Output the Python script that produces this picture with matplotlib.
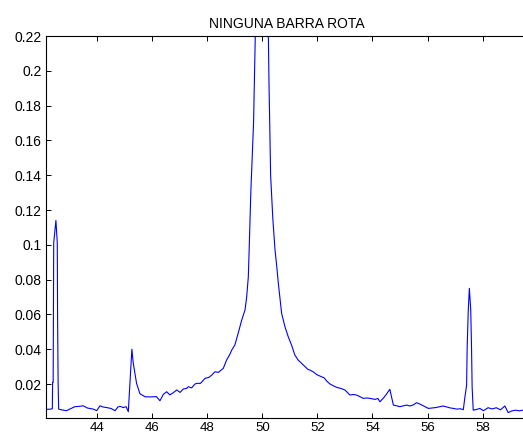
#!/usr/bin/env python3
from __future__ import annotations

import matplotlib as mpl

mpl.use("Agg")
import matplotlib.pyplot as plt

TITLE = "NINGUNA BARRA ROTA"

# spectrum (frequency, amplitude)
FREQ = [
    42.14, 42.20, 42.30, 42.37, 42.38, 42.40, 42.41, 42.42, 42.50, 42.55,
    42.56, 42.58, 42.60, 42.70, 42.89, 43.00, 43.19, 43.35, 43.49, 43.65,
    43.86, 43.98, 44.10, 44.22, 44.34, 44.50, 44.65, 44.75, 44.83, 44.95,
    45.05, 45.13, 45.19, 45.26, 45.31, 45.43, 45.55, 45.74, 45.92, 46.04,
    46.15, 46.28, 46.40, 46.52, 46.64, 46.76, 46.89, 47.01, 47.13, 47.25,
    47.31, 47.43, 47.55, 47.61, 47.75, 47.92, 48.05, 48.15, 48.28, 48.40,
    48.58, 48.70, 48.80, 48.89, 49.00, 49.12, 49.25, 49.37, 49.43, 49.49,
    49.52, 49.58, 49.68, 49.78, 49.90, 50.10, 50.21, 50.24, 50.30, 50.38,
    50.46, 50.52, 50.58, 50.70, 50.82, 50.94, 51.06, 51.18, 51.30, 51.42,
    51.55, 51.65, 51.73, 51.85, 51.97, 52.09, 52.25, 52.35, 52.46, 52.58,
    52.70, 52.85, 53.00, 53.18, 53.30, 53.42, 53.54, 53.66, 53.80, 53.90,
    54.09, 54.20, 54.27, 54.40, 54.50, 54.63, 54.70, 54.76, 54.88, 55.00,
    55.12, 55.24, 55.36, 55.48, 55.60, 55.72, 55.85, 56.03, 56.15, 56.30,
    56.45, 56.57, 56.70, 56.82, 56.94, 57.06, 57.18, 57.30, 57.36, 57.42,
    57.44, 57.48, 57.52, 57.57, 57.60, 57.62, 57.66, 57.80, 57.90, 58.03,
    58.20, 58.35, 58.50, 58.65, 58.81, 58.93, 59.05, 59.20, 59.33, 59.46,
    59.65,
]
AMP = [
    0.0055, 0.0055, 0.0056, 0.0058, 0.021, 0.021, 0.061, 0.101, 0.114, 0.101,
    0.061, 0.021, 0.0056, 0.0052, 0.0047, 0.0056, 0.0070, 0.0072, 0.0075, 0.0062,
    0.0056, 0.0047, 0.0075, 0.0068, 0.0065, 0.0060, 0.0047, 0.0068, 0.0072, 0.0065,
    0.0070, 0.0041, 0.0204, 0.0400, 0.0320, 0.0204, 0.0145, 0.0127, 0.0126, 0.0127,
    0.0128, 0.0104, 0.0140, 0.0156, 0.0138, 0.0150, 0.0166, 0.0152, 0.0172, 0.0175,
    0.0185, 0.0178, 0.0200, 0.0204, 0.0204, 0.0233, 0.0238, 0.0250, 0.0271, 0.0267,
    0.0290, 0.0338, 0.0365, 0.0396, 0.0424, 0.0491, 0.0568, 0.0626, 0.0700, 0.0817,
    0.0970, 0.1300, 0.1700, 0.2500, 0.5500, 0.5500, 0.2300, 0.1940, 0.1400, 0.1150,
    0.0970, 0.0880, 0.0779, 0.0606, 0.0530, 0.0472, 0.0424, 0.0367, 0.0338, 0.0320,
    0.0300, 0.0285, 0.0280, 0.0270, 0.0255, 0.0246, 0.0235, 0.0215, 0.0200, 0.0190,
    0.0181, 0.0175, 0.0166, 0.0137, 0.0140, 0.0137, 0.0128, 0.0118, 0.0120, 0.0118,
    0.0112, 0.0117, 0.0098, 0.0120, 0.0140, 0.0170, 0.0120, 0.0079, 0.0075, 0.0070,
    0.0075, 0.0079, 0.0074, 0.0080, 0.0093, 0.0085, 0.0075, 0.0060, 0.0062, 0.0065,
    0.0070, 0.0074, 0.0068, 0.0063, 0.0060, 0.0056, 0.0058, 0.0053, 0.0127, 0.0194,
    0.0410, 0.0625, 0.0750, 0.0625, 0.0396, 0.0185, 0.0050, 0.0055, 0.0060, 0.0047,
    0.0064, 0.0057, 0.0064, 0.0052, 0.0074, 0.0036, 0.0045, 0.0050, 0.0046, 0.0050,
    0.0052,
]
XTICKS = [44, 46, 48, 50, 52, 54, 56, 58]
YTICKS = [0.02, 0.04, 0.06, 0.08, 0.1, 0.12, 0.14, 0.16, 0.18, 0.2, 0.22]


def setup_style() -> None:
    mpl.rcParams.update(
        {
            "font.family": "sans-serif",
            "font.sans-serif": ["Liberation Sans", "Arial", "DejaVu Sans"],
            "font.size": 10,
            "axes.linewidth": 0.8,
            "xtick.direction": "in",
            "ytick.direction": "in",
            "xtick.major.size": 3.6,
            "ytick.major.size": 3.6,
            "xtick.major.width": 0.7,
            "ytick.major.width": 0.7,
            "xtick.top": True,
            "ytick.right": True,
        }
    )


def main() -> None:
    setup_style()
    fig = plt.figure(figsize=(5.23, 4.37), dpi=100)
    # axes box runs a little past the right border, as in the cropped original
    ax = fig.add_axes([46 / 523, 19 / 437, 482 / 523, 382 / 437])
    ax.plot(FREQ, AMP, color="#0000ff", lw=0.8)
    ax.set_xlim(42.14, 59.65)
    ax.set_ylim(0.0005, 0.22)
    ax.set_xticks(XTICKS)
    ax.set_xticklabels([f"{t:g}" for t in XTICKS])
    ax.set_yticks(YTICKS)
    ax.set_yticklabels([f"{t:g}" for t in YTICKS])
    ax.tick_params(axis="x", pad=3, labelsize=9.5)
    ax.tick_params(axis="y", pad=3, labelsize=10)
    ax.set_title(TITLE, fontsize=10, pad=6)
    fig.savefig("out.png", dpi=100)
    plt.close(fig)


if __name__ == "__main__":
    main()
